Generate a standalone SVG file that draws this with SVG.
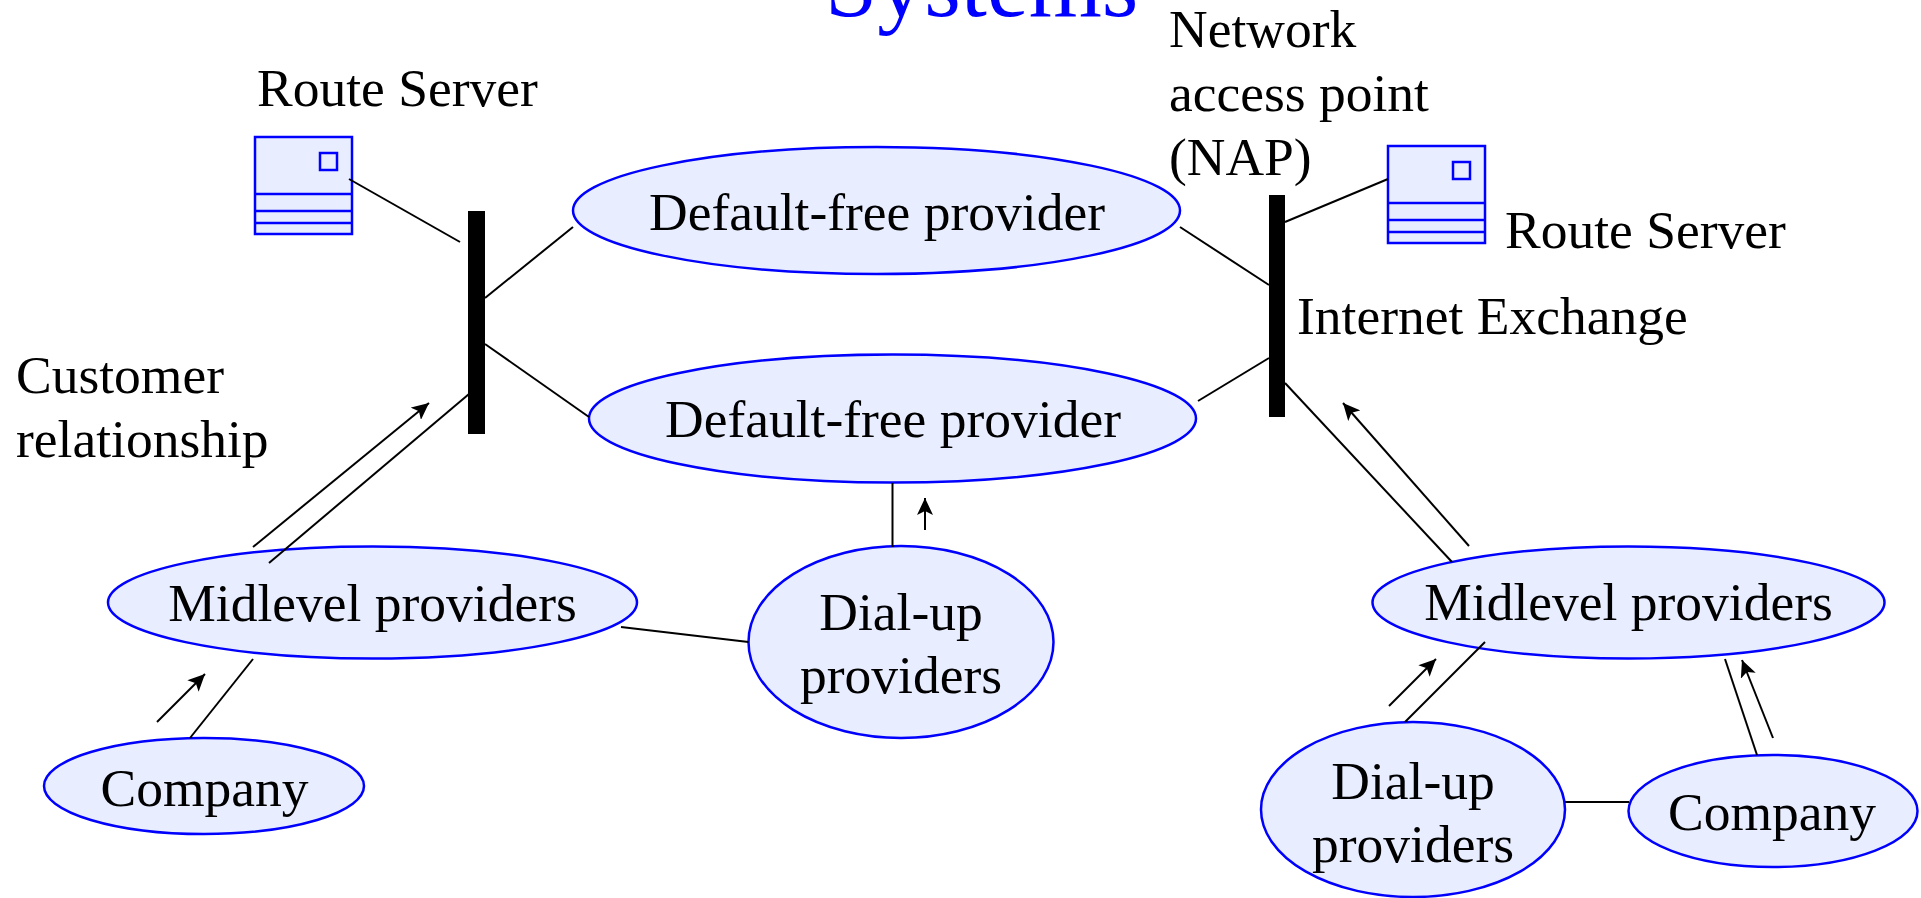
<svg xmlns="http://www.w3.org/2000/svg" width="1921" height="898" viewBox="0 0 1921 898">
  <style>
    .lbl { font-family: "Liberation Serif", "Times New Roman", serif; font-size: 53.5px; fill: #000; }
    .mid { text-anchor: middle; }
    .node { fill: #E8EEFF; stroke: #0000FF; stroke-width: 2.5; }
    .srv { fill: #E8EEFF; stroke: #0000FF; stroke-width: 2.5; }
    .srvline { stroke: #0000FF; stroke-width: 2.5; fill: none; }
    .conn { stroke: #000; stroke-width: 2; fill: none; }
    .arr { stroke: #000; stroke-width: 2; fill: none; marker-end: url(#ah); }
    .title { font-family: "Liberation Serif", "Times New Roman", serif; font-size: 94px; fill: #0000FF; }
  </style>
  <defs>
    <marker id="ah" markerUnits="userSpaceOnUse" markerWidth="19" markerHeight="16" refX="17" refY="8" orient="auto">
      <path d="M0,0 L17,8 L0,16 L4,8 z" fill="#000"/>
    </marker>
    <g id="server">
      <rect class="srv" x="0" y="0" width="97" height="97"/>
      <line class="srvline" x1="0" y1="57" x2="97" y2="57"/>
      <line class="srvline" x1="0" y1="74" x2="97" y2="74"/>
      <line class="srvline" x1="0" y1="86" x2="97" y2="86"/>
      <rect class="srvline" x="65" y="16" width="17" height="17"/>
    </g>
  </defs>

  <rect x="0" y="0" width="1921" height="898" fill="#fff"/>

  <text class="title" x="825" y="16">Systems</text>

  <g id="route-server-left">
    <use href="#server" x="255" y="137"/>
    <text class="lbl" x="257" y="106">Route Server</text>
  </g>

  <g id="route-server-right">
    <use href="#server" x="1388" y="146"/>
    <text class="lbl" x="1505" y="248">Route Server</text>
  </g>

  <g id="exchange-left">
    <rect x="468" y="211" width="17" height="223" fill="#000"/>
  </g>

  <g id="exchange-right">
    <rect x="1269" y="195" width="16" height="222" fill="#000"/>
    <text class="lbl" x="1297" y="334">Internet Exchange</text>
  </g>

  <g id="nap-label">
    <text class="lbl" x="1169" y="47">Network</text>
    <text class="lbl" x="1169" y="111">access point</text>
    <text class="lbl" x="1169" y="175">(NAP)</text>
  </g>

  <g id="customer-label">
    <text class="lbl" x="16" y="393">Customer</text>
    <text class="lbl" x="16" y="457">relationship</text>
  </g>

  <g id="default-free-1">
    <ellipse class="node" cx="876.5" cy="210.5" rx="303.5" ry="63.5"/>
    <text class="lbl mid" x="877" y="230">Default-free provider</text>
  </g>

  <g id="default-free-2">
    <ellipse class="node" cx="892.5" cy="418.5" rx="303.5" ry="64"/>
    <text class="lbl mid" x="893" y="437">Default-free provider</text>
  </g>

  <g id="midlevel-left">
    <ellipse class="node" cx="372.5" cy="602.5" rx="264.5" ry="56"/>
    <text class="lbl mid" x="372.5" y="621">Midlevel providers</text>
  </g>

  <g id="dialup-center">
    <ellipse class="node" cx="901" cy="642" rx="152.5" ry="96"/>
    <text class="lbl mid" x="901" y="630">Dial-up</text>
    <text class="lbl mid" x="901" y="693">providers</text>
  </g>

  <g id="company-left">
    <ellipse class="node" cx="204" cy="786" rx="160" ry="48"/>
    <text class="lbl mid" x="204.5" y="806">Company</text>
  </g>

  <g id="midlevel-right">
    <ellipse class="node" cx="1628.5" cy="602.5" rx="256" ry="56"/>
    <text class="lbl mid" x="1628.5" y="620">Midlevel providers</text>
  </g>

  <g id="dialup-right">
    <ellipse class="node" cx="1413" cy="809.5" rx="152" ry="87.5"/>
    <text class="lbl mid" x="1413" y="799">Dial-up</text>
    <text class="lbl mid" x="1413" y="862">providers</text>
  </g>

  <g id="company-right">
    <ellipse class="node" cx="1773" cy="811" rx="144.5" ry="56"/>
    <text class="lbl mid" x="1772" y="830">Company</text>
  </g>

  <g id="connectors">
    <line class="conn" x1="349" y1="179" x2="460" y2="242"/>
    <line class="conn" x1="485" y1="298" x2="573" y2="227"/>
    <line class="conn" x1="485" y1="344" x2="589" y2="417"/>
    <line class="conn" x1="1180" y1="227" x2="1269" y2="285"/>
    <line class="conn" x1="1198" y1="401" x2="1269" y2="358"/>
    <line class="conn" x1="1285" y1="222" x2="1388" y2="179"/>
    <line class="conn" x1="269" y1="563" x2="469" y2="394"/>
    <line class="arr" x1="253" y1="547" x2="429" y2="403"/>
    <line class="conn" x1="621" y1="627" x2="748.5" y2="642"/>
    <line class="conn" x1="892.5" y1="483" x2="892.5" y2="547"/>
    <line class="arr" x1="925" y1="530" x2="925" y2="498"/>
    <line class="conn" x1="190" y1="738" x2="253" y2="659"/>
    <line class="arr" x1="157" y1="722" x2="205" y2="674"/>
    <line class="conn" x1="1285" y1="383" x2="1452" y2="562"/>
    <line class="arr" x1="1469" y1="546" x2="1343" y2="403"/>
    <line class="conn" x1="1405" y1="722" x2="1485" y2="642"/>
    <line class="arr" x1="1389" y1="706" x2="1436" y2="659"/>
    <line class="conn" x1="1757" y1="755" x2="1725" y2="659"/>
    <line class="arr" x1="1773" y1="738" x2="1742" y2="660"/>
    <line class="conn" x1="1565" y1="802" x2="1629" y2="802"/>
  </g>
</svg>
